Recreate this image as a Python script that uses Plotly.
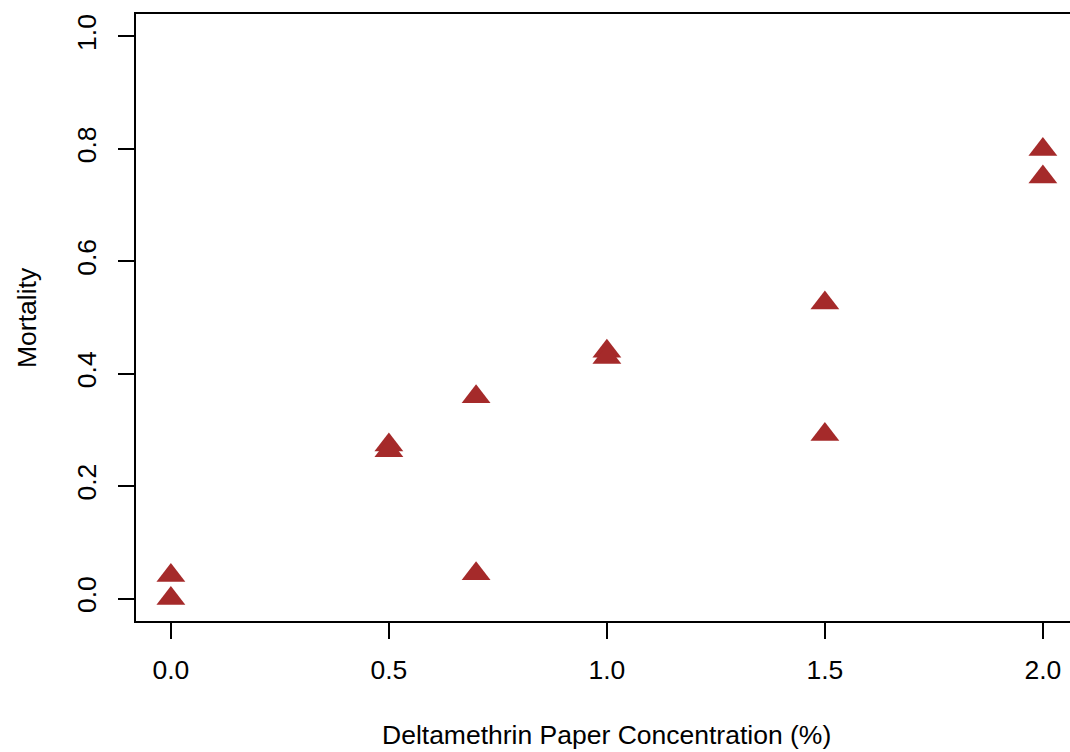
import plotly.graph_objects as go

concentration = [0.0, 0.0, 0.5, 0.5, 0.7, 0.7, 1.0, 1.0, 1.5, 1.5, 2.0, 2.0]
mortality = [0.041, 0.0, 0.273, 0.263, 0.359, 0.044, 0.440, 0.429, 0.526, 0.292, 0.799, 0.750]

x_ticks = [0.0, 0.5, 1.0, 1.5, 2.0]
x_tick_labels = ["0.0", "0.5", "1.0", "1.5", "2.0"]
y_ticks = [0.0, 0.2, 0.4, 0.6, 0.8, 1.0]
y_tick_labels = ["0.0", "0.2", "0.4", "0.6", "0.8", "1.0"]

x_title = "Deltamethrin Paper Concentration (%)"
y_title = "Mortality"

FONT = "Liberation Sans, Arial, sans-serif"
FS = 26.5

fig = go.Figure()
fig.add_trace(go.Scatter(
    x=concentration, y=mortality, mode="markers",
    marker=dict(symbol="triangle-up", size=25, color="#A52A2A", line=dict(width=0)),
    showlegend=False, cliponaxis=False,
))

fig.update_layout(
    width=1070, height=752,
    margin=dict(l=136, r=0, t=13.5, b=130.5),
    paper_bgcolor="white", plot_bgcolor="white",
    font=dict(family=FONT, size=FS, color="black"),
    xaxis=dict(
        range=[-0.08, -0.08 + 934 / 436], showgrid=False, zeroline=False,
        showline=True, mirror=True, linecolor="black", linewidth=2,
        ticks="outside", ticklen=16, tickwidth=1.5, tickcolor="black",
        tickvals=x_ticks, ticktext=x_tick_labels, ticklabelstandoff=8,
    ),
    yaxis=dict(
        range=[-0.04, 1.04], showgrid=False, zeroline=False,
        showline=True, mirror=False, linecolor="black", linewidth=2,
        ticks="outside", ticklen=16, tickwidth=1.5, tickcolor="black",
        tickvals=y_ticks, ticktext=y_tick_labels, tickangle=-90, ticklabelstandoff=11,
    ),
    annotations=[
        dict(text=x_title, xref="paper", yref="paper", x=(606 - 136) / 934, y=(621.5 - 736) / 608,
             xanchor="center", yanchor="middle", showarrow=False, font=dict(size=FS)),
        dict(text=y_title, xref="paper", yref="paper", x=(27 - 136) / 934, y=(621.5 - 318) / 608,
             xanchor="center", yanchor="middle", showarrow=False, textangle=-90, font=dict(size=FS)),
    ],
)

fig.write_html(
    "out.html",
    config={"displayModeBar": False},
    post_script="document.body.style.margin='0';document.body.style.overflow='hidden';",
)
